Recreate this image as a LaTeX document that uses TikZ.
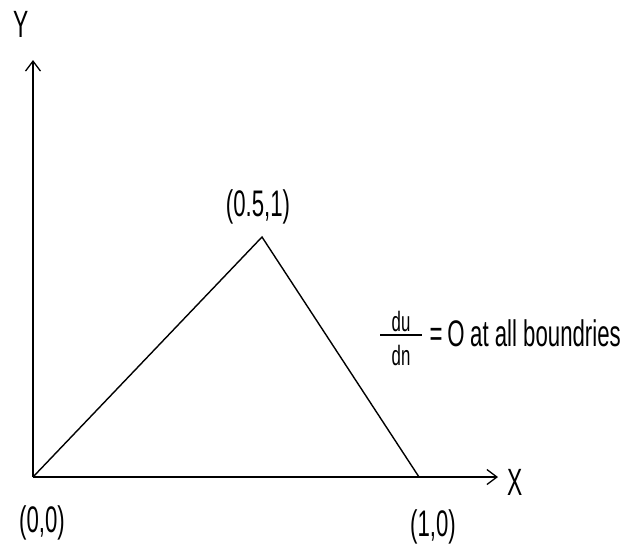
\documentclass[tikz,border=0pt]{standalone}
\usepackage{fontspec}
\setmainfont[FakeStretch=0.6]{Liberation Sans}
\usetikzlibrary{arrows.meta}
\begin{document}
\begin{tikzpicture}[x=1pt,y=-1pt,
  axis/.style={line width=1.4pt, -{Straight Barb[length=10pt,width=15pt,line width=1.3pt]}},
  edge/.style={line width=1.4pt},
  lbl/.style={font=\fontsize{37}{39}\selectfont, inner sep=0pt},
  small/.style={font=\fontsize{28}{30}\selectfont, inner sep=0pt},
  axlbl/.style={font=\fontsize{38}{40}\selectfont, inner sep=0pt}]
\useasboundingbox (0,0) rectangle (640,549);
\coordinate (O) at (33,477);
\coordinate (A) at (262,237);
\coordinate (B) at (419,477);
\coordinate (Yt) at (33,60);
\coordinate (Xt) at (498,477);
\draw[axis] (O) -- (Yt);
\draw[axis] (O) -- (Xt);
\draw[edge] (O) -- (A) -- (B);
\node[axlbl] (ylab) at (21,24) {Y};
\node[axlbl] (xlab) at (515,482) {X};
\node[lbl] (l00) at (42,523) {(0,0)};
\node[lbl] (l10) at (433,527) {(1,0)};
\node[lbl] (l51) at (258,207) {(0.5,1)};
\node[small] (du) at (401,321) {du};
\node[small] (dn) at (401,355) {dn};
\coordinate (barL) at (380,335);
\coordinate (barR) at (422,335);
\draw[line width=1.2pt] (barL) -- (barR);
\node[lbl] (eq) at (436,337) {=};
\node[lbl] (zero) at (456,334) {O};
\node[lbl, anchor=west] (txt) at (470,333) {at all boundries};
\end{tikzpicture}
\end{document}
